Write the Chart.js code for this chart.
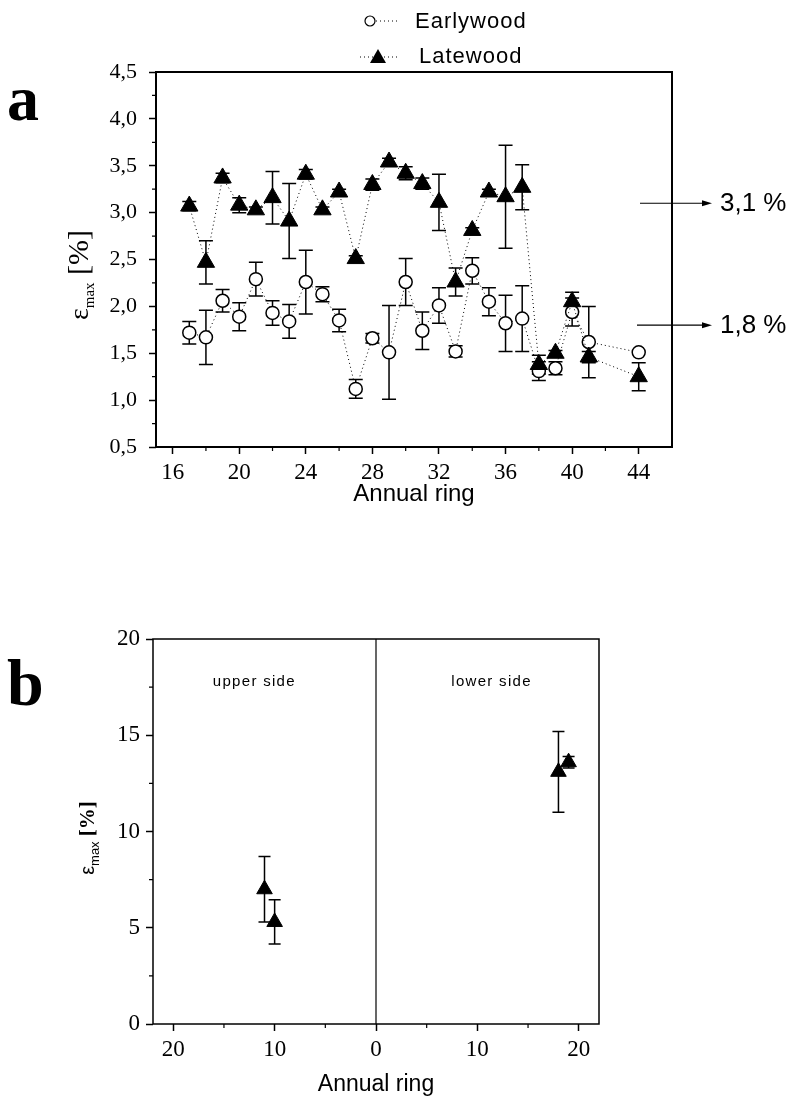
<!DOCTYPE html>
<html>
<head>
<meta charset="utf-8">
<script src="https://cdn.jsdelivr.net/npm/chart.js@4.4.1/dist/chart.umd.min.js"></script>
<style>
  html, body { margin: 0; padding: 0; background: #fff; }
  #wrap { position: relative; width: 799px; height: 1102px; }
  canvas { position: absolute; left: 0; top: 0; }
</style>
</head>
<body>
<div id="wrap">
  <canvas id="chart-a" width="799" height="1102"></canvas>
  <canvas id="chart-b" width="799" height="1102"></canvas>
</div>
<script>
// ---- panel a : strain per annual ring ----
const ringsA = [17, 18, 19, 20, 21, 22, 23, 24, 25, 26, 27, 28, 29, 30, 31, 32, 33, 34, 35, 36, 37, 38, 39, 40, 41, 44];
const earlywood = [1.72, 1.67, 2.06, 1.89, 2.29, 1.93, 1.84, 2.26, 2.13, 1.85, 1.12, 1.66, 1.51, 2.26, 1.74, 2.01, 1.52, 2.38, 2.05, 1.82, 1.87, 1.31, 1.34, 1.94, 1.62, 1.51];
const earlywoodErr = [0.12, 0.29, 0.12, 0.15, 0.18, 0.13, 0.18, 0.34, 0.08, 0.12, 0.10, 0.05, 0.50, 0.25, 0.20, 0.19, 0.06, 0.14, 0.15, 0.30, 0.35, 0.10, 0.07, 0.15, 0.38, 0];
const latewood = [3.07, 2.47, 3.37, 3.08, 3.03, 3.16, 2.91, 3.41, 3.03, 3.22, 2.51, 3.30, 3.54, 3.42, 3.31, 3.11, 2.26, 2.81, 3.22, 3.17, 3.27, 1.38, 1.50, 2.05, 1.46, 1.25];
const latewoodErr = [0.05, 0.23, 0.05, 0.08, 0.03, 0.28, 0.40, 0.05, 0.03, 0.03, 0.03, 0.06, 0.04, 0.07, 0.06, 0.30, 0.15, 0.03, 0.03, 0.55, 0.24, 0.10, 0.03, 0.10, 0.06, 0.15];
const xTicksA = [16, 20, 24, 28, 32, 36, 40, 44];
const yTicksA = [0.5, 1.0, 1.5, 2.0, 2.5, 3.0, 3.5, 4.0, 4.5];
const arrowValues = [3.1, 1.8];
const arrowLabels = ['3,1 %', '1,8 %'];

// ---- panel b : upper / lower side ----
const ringsB = [-11, -10, 18, 19];
const strainB = [7.0, 5.3, 13.1, 13.6];
const strainBErr = [1.7, 1.15, 2.1, 0.3];
const xTicksB = [-20, -10, 0, 10, 20];
const yTicksB = [0, 5, 10, 15, 20];

const SERIF = "'Liberation Serif', 'DejaVu Serif', serif";
const SANS = "'Liberation Sans', Arial, sans-serif";

const toPoints = (xs, ys) => xs.map((x, i) => ({ x, y: ys[i] }));
const fixTicks = (values) => (scale) => { scale.ticks = values.map(v => ({ value: v })); };

// vertical error bars, drawn under the markers
const errorBars = {
  id: 'errorBars',
  beforeDatasetsDraw(chart) {
    const { ctx } = chart;
    const yScale = chart.scales.y;
    chart.data.datasets.forEach((ds, i) => {
      if (!ds.errors) return;
      const meta = chart.getDatasetMeta(i);
      ctx.save();
      ctx.strokeStyle = '#000';
      ctx.lineWidth = 1.5;
      meta.data.forEach((pt, j) => {
        const err = ds.errors[j];
        if (!err) return;
        const v = ds.data[j].y;
        const top = yScale.getPixelForValue(v + err);
        const bot = yScale.getPixelForValue(v - err);
        const half = ds.capWidth / 2;
        ctx.beginPath();
        ctx.moveTo(pt.x, top); ctx.lineTo(pt.x, bot);
        ctx.moveTo(pt.x - half, top); ctx.lineTo(pt.x + half, top);
        ctx.moveTo(pt.x - half, bot); ctx.lineTo(pt.x + half, bot);
        ctx.stroke();
      });
      ctx.restore();
    });
  }
};

// box frame + short minor ticks between the major ones
const frameAndMinor = {
  id: 'frameAndMinor',
  afterDraw(chart, args, opts) {
    const { ctx, chartArea: a } = chart;
    ctx.save();
    ctx.strokeStyle = '#000';
    ctx.lineWidth = opts.frameWidth || 1.5;
    ctx.strokeRect(a.left, a.top, a.right - a.left, a.bottom - a.top);
    ctx.lineWidth = 1.2;
    const xs = chart.scales.x, ys = chart.scales.y;
    const mids = (t) => t.slice(1).map((tk, i) => (tk.value + t[i].value) / 2);
    ctx.beginPath();
    mids(xs.ticks).forEach(v => {
      const px = xs.getPixelForValue(v);
      ctx.moveTo(px, a.bottom); ctx.lineTo(px, a.bottom + 4);
    });
    mids(ys.ticks).forEach(v => {
      const py = ys.getPixelForValue(v);
      ctx.moveTo(a.left - 4, py); ctx.lineTo(a.left, py);
    });
    ctx.stroke();
    ctx.restore();
  }
};

function drawRotatedTitle(ctx, cx, cy, parts) {
  ctx.save();
  ctx.translate(cx, cy);
  ctx.rotate(-Math.PI / 2);
  ctx.fillStyle = '#000';
  ctx.textBaseline = 'alphabetic';
  let total = 0;
  parts.forEach(p => { ctx.font = p.font; total += ctx.measureText(p.text).width; });
  let x = -total / 2;
  parts.forEach(p => {
    ctx.font = p.font;
    ctx.fillText(p.text, x, p.dy || 0);
    x += ctx.measureText(p.text).width;
  });
  ctx.restore();
}

const panelA = {
  id: 'panelA',
  afterDraw(chart) {
    const { ctx, chartArea: a } = chart;
    const ys = chart.scales.y;
    ctx.save();
    ctx.fillStyle = '#000';
    ctx.strokeStyle = '#000';

    // panel letter
    ctx.font = `bold 64px ${SERIF}`;
    ctx.textAlign = 'left';
    ctx.fillText('a', 7, 120);

    // legend
    ctx.lineWidth = 1;
    ctx.setLineDash([1, 3]);
    ctx.beginPath();
    ctx.moveTo(376, 21); ctx.lineTo(400, 21);
    ctx.moveTo(360, 57); ctx.lineTo(400, 57);
    ctx.stroke();
    ctx.setLineDash([]);
    ctx.beginPath();
    ctx.arc(370, 21, 5, 0, Math.PI * 2);
    ctx.fillStyle = '#fff'; ctx.fill();
    ctx.lineWidth = 1.2; ctx.stroke();
    ctx.fillStyle = '#000';
    ctx.beginPath();
    ctx.moveTo(378, 49); ctx.lineTo(386, 63); ctx.lineTo(370, 63); ctx.closePath();
    ctx.fill();
    ctx.font = `22px ${SANS}`;
    ctx.textBaseline = 'middle';
    ctx.letterSpacing = '1px';
    ctx.fillText('Earlywood', 415, 22);
    ctx.fillText('Latewood', 419, 57);
    ctx.letterSpacing = '0px';

    // arrows to the right of the frame
    arrowValues.forEach((v, i) => {
      const py = ys.getPixelForValue(v);
      const x0 = i === 0 ? 640 : 637;
      ctx.lineWidth = 1.2;
      ctx.beginPath();
      ctx.moveTo(x0, py); ctx.lineTo(706, py);
      ctx.stroke();
      ctx.beginPath();
      ctx.moveTo(712, py); ctx.lineTo(702, py - 3); ctx.lineTo(702, py + 3); ctx.closePath();
      ctx.fill();
      ctx.font = `26px ${SANS}`;
      ctx.textBaseline = 'middle';
      ctx.fillText(arrowLabels[i], 720, py + 1);
    });

    // axis titles
    ctx.font = `24px ${SANS}`;
    ctx.textAlign = 'center';
    ctx.textBaseline = 'alphabetic';
    ctx.fillText('Annual ring', (a.left + a.right) / 2, 501);
    ctx.restore();

    drawRotatedTitle(ctx, 88, 275, [
      { text: 'ε', font: `28px ${SERIF}` },
      { text: 'max', font: `15px ${SERIF}`, dy: 6 },
      { text: ' [%]', font: `30px ${SERIF}` }
    ]);
  }
};

const panelB = {
  id: 'panelB',
  afterDraw(chart) {
    const { ctx, chartArea: a } = chart;
    const xs = chart.scales.x;
    ctx.save();
    ctx.fillStyle = '#000';
    ctx.strokeStyle = '#000';

    // separation between the two sides
    const px0 = xs.getPixelForValue(0);
    ctx.lineWidth = 1.2;
    ctx.beginPath();
    ctx.moveTo(px0, a.top); ctx.lineTo(px0, a.bottom);
    ctx.stroke();

    ctx.font = `bold 66px ${SERIF}`;
    ctx.textAlign = 'left';
    ctx.fillText('b', 7, 705);

    ctx.font = `15px ${SANS}`;
    ctx.textAlign = 'center';
    ctx.letterSpacing = '1.3px';
    ctx.fillText('upper side', xs.getPixelForValue(-12), 686);
    ctx.fillText('lower side', xs.getPixelForValue(11.4), 686);
    ctx.letterSpacing = '0px';

    ctx.font = `23px ${SANS}`;
    ctx.fillText('Annual ring', px0, 1091);
    ctx.restore();

    drawRotatedTitle(ctx, 94, 838, [
      { text: 'ε', font: `20px ${SANS}` },
      { text: 'max', font: `13px ${SANS}`, dy: 5 },
      { text: ' [%]', font: `bold 21px ${SERIF}` }
    ]);
  }
};

const axisCommon = (fontSize, pad, tickLen) => ({
  type: 'linear',
  border: { display: false },
  grid: { drawOnChartArea: false, drawTicks: true, tickLength: tickLen, tickColor: '#000', tickWidth: 1.5 },
  ticks: { color: '#000', font: { family: SERIF, size: fontSize }, padding: pad, autoSkip: false, maxRotation: 0 }
});

// panel a chart
const xA = axisCommon(23, 5, 7);
Object.assign(xA, { min: 15, max: 46, afterBuildTicks: fixTicks(xTicksA), afterFit: s => { s.height = 1102 - 447; } });
const yA = axisCommon(22, 12, 7);
Object.assign(yA, { min: 0.5, max: 4.5, afterBuildTicks: fixTicks(yTicksA), afterFit: s => { s.width = 156; } });
yA.ticks.callback = v => v.toFixed(1).replace('.', ',');

new Chart(document.getElementById('chart-a'), {
  type: 'scatter',
  data: {
    datasets: [
      {
        label: 'Latewood',
        data: toPoints(ringsA, latewood),
        errors: latewoodErr,
        capWidth: 14,
        showLine: true,
        borderColor: '#000',
        borderWidth: 1,
        borderDash: [1, 3],
        pointStyle: 'triangle',
        pointRadius: 10,
        pointBackgroundColor: '#000',
        pointBorderColor: '#000',
        pointBorderWidth: 1
      },
      {
        label: 'Earlywood',
        data: toPoints(ringsA, earlywood),
        errors: earlywoodErr,
        capWidth: 14,
        showLine: true,
        borderColor: '#000',
        borderWidth: 1,
        borderDash: [1, 3],
        pointStyle: 'circle',
        pointRadius: 6.5,
        pointBackgroundColor: '#fff',
        pointBorderColor: '#000',
        pointBorderWidth: 1.5
      }
    ]
  },
  options: {
    responsive: false,
    animation: false,
    devicePixelRatio: 1,
    layout: { padding: { top: 72, right: 799 - 672, left: 0, bottom: 0 } },
    plugins: { legend: { display: false }, tooltip: { enabled: false }, frameAndMinor: { frameWidth: 2 } },
    scales: { x: xA, y: yA }
  },
  plugins: [errorBars, frameAndMinor, panelA]
});

// panel b chart
const xB = axisCommon(23, 5, 7);
Object.assign(xB, { min: -22, max: 22, afterBuildTicks: fixTicks(xTicksB), afterFit: s => { s.height = 1102 - 1024; } });
xB.ticks.callback = v => String(Math.abs(v));
const yB = axisCommon(23, 6, 7);
Object.assign(yB, { min: 0, max: 20, afterBuildTicks: fixTicks(yTicksB), afterFit: s => { s.width = 153; } });

new Chart(document.getElementById('chart-b'), {
  type: 'scatter',
  data: {
    datasets: [
      {
        label: 'Latewood',
        data: toPoints(ringsB, strainB),
        errors: strainBErr,
        capWidth: 12,
        showLine: false,
        pointStyle: 'triangle',
        pointRadius: 9,
        pointBackgroundColor: '#000',
        pointBorderColor: '#000',
        pointBorderWidth: 1
      }
    ]
  },
  options: {
    responsive: false,
    animation: false,
    devicePixelRatio: 1,
    layout: { padding: { top: 639, right: 799 - 599, left: 0, bottom: 0 } },
    plugins: { legend: { display: false }, tooltip: { enabled: false }, frameAndMinor: { frameWidth: 1.5 } },
    scales: { x: xB, y: yB }
  },
  plugins: [errorBars, frameAndMinor, panelB]
});
</script>
</body>
</html>
